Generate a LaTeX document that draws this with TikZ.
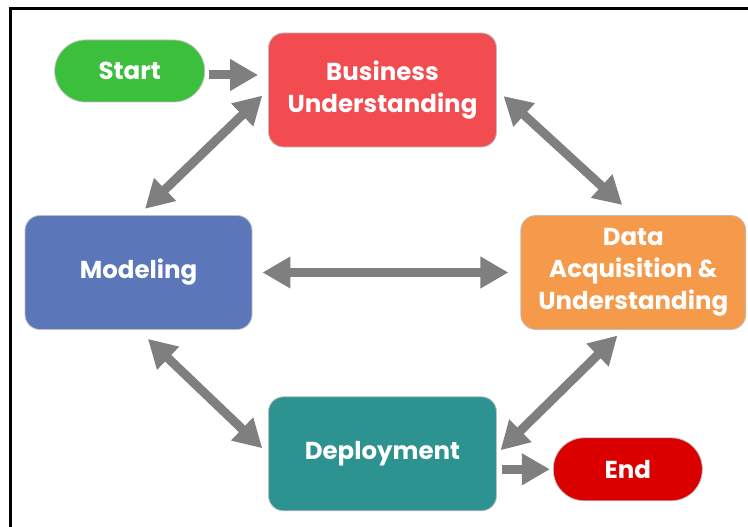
\documentclass[tikz,border=0pt]{standalone}
\usepackage{fontspec}
\setmainfont{Poppins}
\usetikzlibrary{arrows.meta, positioning}

\definecolor{startgreen}{HTML}{3CBF3C}
\definecolor{busred}{HTML}{F24B50}
\definecolor{dataorange}{HTML}{F59A4B}
\definecolor{modblue}{HTML}{5B77BA}
\definecolor{depteal}{HTML}{2D9390}
\definecolor{endred}{HTML}{DA0000}
\definecolor{arrowgray}{HTML}{7F7F7F}

\begin{document}
\begin{tikzpicture}[
  x=1pt, y=-1pt,
  box/.style={draw=black!25, line width=0.8pt, rounded corners=15pt, minimum width=228pt, minimum height=114pt,
    align=center, text=white, font=\bfseries\fontsize{24.5}{32}\selectfont, inner sep=0pt},
  pill/.style={box, rounded corners=31pt, minimum width=150pt, minimum height=62pt},
  line/.style={-{Triangle[length=28pt, width=30pt]}, line width=9pt, draw=arrowgray},
  dline/.style={{Triangle[length=28pt, width=30pt]}-{Triangle[length=28pt, width=30pt]}, line width=9pt, draw=arrowgray}
]
\useasboundingbox (0,0) rectangle (748,527);
\draw[line width=3pt] (10,527) -- (10,9) -- (748,9);

\node[box, fill=busred] (bu) at (382.5,90) {Business\\Understanding};
\node[pill, fill=startgreen, left=63pt of bu, yshift=19pt] (start) {Start};
\node[box, fill=modblue, minimum width=227pt] (mod) at (138.5,272.5) {Modeling};
\node[box, fill=dataorange, minimum width=225pt, right=268pt of mod] (da) {Data\\Acquisition \&\\Understanding};
\node[box, fill=depteal, below=249pt of bu] (dep) {Deployment};
\node[pill, fill=endred, minimum width=149pt, minimum height=63pt, right=56pt of dep, yshift=-15.5pt] (end) {End};

% flow
\draw[line, shorten <=4pt, shorten >=10pt] ([yshift=-4pt]start.east) -- ([yshift=-4pt]start.east -| bu.west);
\draw[dline, shorten <=9pt, shorten >=8pt] (mod.north) -- (bu.west);
\draw[dline, shorten <=9pt, shorten >=15pt] (bu.east) -- (da.north);
\draw[dline, shorten <=10pt, shorten >=12pt] (mod.east) -- (da.west);
\draw[dline, shorten <=13pt, shorten >=8pt] (mod.south) -- (dep.west);
\draw[dline, shorten <=8pt, shorten >=5pt] (da.260) -- (dep.east);
\draw[line, shorten <=5pt, shorten >=3pt] (dep.east |- end.west) -- (end.west);
\end{tikzpicture}
\end{document}
